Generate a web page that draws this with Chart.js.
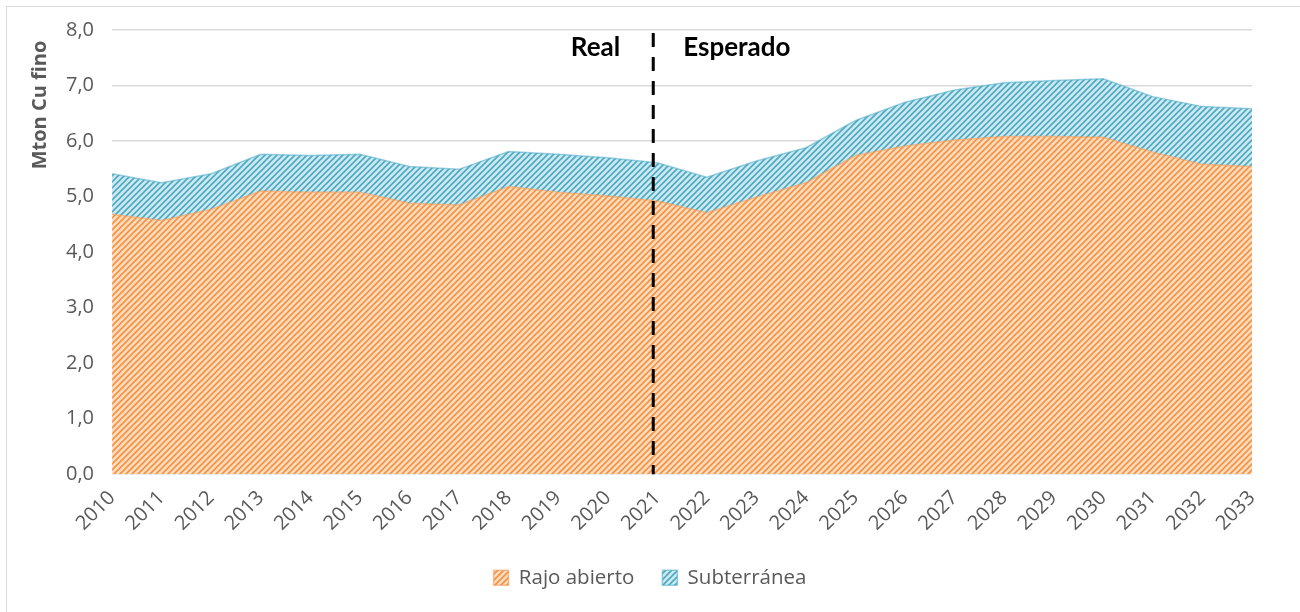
<!DOCTYPE html>
<html>
<head>
<meta charset="utf-8">
<script src="https://cdn.jsdelivr.net/npm/chart.js@4.4.1/dist/chart.umd.min.js"></script>
<style>
    html, body { margin: 0; padding: 0; background: #fff; overflow: hidden; }
    #frame {
        position: absolute; left: 6px; top: 6px; width: 1400px; height: 700px;
        border-left: 1px solid #d9d9d9; border-top: 1px solid #d9d9d9;
    }
    #wrap { position: absolute; left: 0; top: 0; width: 1300px; height: 612px; }
</style>
</head>
<body>
<div id="frame"></div>
<div id="wrap"><canvas id="chart"></canvas></div>
<script>
// Data (Mton Cu fino)
const years = ['2010', '2011', '2012', '2013', '2014', '2015', '2016', '2017', '2018', '2019', '2020', '2021',
               '2022', '2023', '2024', '2025', '2026', '2027', '2028', '2029', '2030', '2031', '2032', '2033'];
const rajoAbierto = [4.68, 4.57, 4.77, 5.10, 5.08, 5.08, 4.88, 4.85, 5.18, 5.08, 5.01, 4.92,
                     4.71, 4.99, 5.25, 5.74, 5.91, 6.02, 6.08, 6.08, 6.07, 5.80, 5.58, 5.54];
const subterranea = [0.73, 0.68, 0.64, 0.66, 0.66, 0.68, 0.66, 0.64, 0.63, 0.68, 0.69, 0.69,
                     0.64, 0.65, 0.63, 0.63, 0.79, 0.90, 0.97, 1.01, 1.05, 1.00, 1.04, 1.04];
const yTicks = [0, 1, 2, 3, 4, 5, 6, 7, 8];
const splitYear = '2021';

const textGray = '#595959';
const baseFont = '"Open Sans", sans-serif';

// Diagonal hatch pattern like Excel's "wide upward diagonal"
function hatch(base, stripe) {
    const size = 6;
    const c = document.createElement('canvas');
    c.width = size; c.height = size;
    const g = c.getContext('2d');
    g.fillStyle = base;
    g.fillRect(0, 0, size, size);
    g.strokeStyle = stripe;
    g.lineWidth = 1.6;
    g.beginPath();
    g.moveTo(0, size); g.lineTo(size, 0);
    g.moveTo(-1, 1); g.lineTo(1, -1);
    g.moveTo(size - 1, size + 1); g.lineTo(size + 1, size - 1);
    g.stroke();
    return g.createPattern(c, 'repeat');
}

const orangePattern = hatch('#fddcc0', '#f5913f');
const bluePattern = hatch('#cfe9f1', '#4aaac6');

// Dashed divider between real and expected data, its labels, and the y title
const dividerPlugin = {
    id: 'divider',
    afterDatasetsDraw(chart) {
        const { ctx, chartArea, scales } = chart;
        const x = scales.x.getPixelForValue(years.indexOf(splitYear)) - 4;
        ctx.save();
        ctx.strokeStyle = '#000';
        ctx.lineWidth = 3;
        ctx.setLineDash([14, 10]);
        ctx.beginPath();
        ctx.moveTo(x, chartArea.top + 3);
        ctx.lineTo(x, chartArea.bottom);
        ctx.stroke();
        ctx.setLineDash([]);
        ctx.fillStyle = '#000';
        ctx.font = 'bold 26px Lato, "Open Sans", sans-serif';
        ctx.textBaseline = 'middle';
        ctx.textAlign = 'right';
        ctx.fillText('Real', x - 33, chartArea.top + 18);
        ctx.textAlign = 'left';
        ctx.fillText('Esperado', x + 30, chartArea.top + 18);

        // axis title sits high on the left, as in the original
        ctx.translate(40, scales.y.getPixelForValue(6.65));
        ctx.rotate(-Math.PI / 2);
        ctx.textAlign = 'center';
        ctx.fillStyle = textGray;
        ctx.font = 'bold 20px ' + baseFont;
        ctx.fillText('Mton Cu fino', 0, 0);
        ctx.restore();
    }
};

new Chart(document.getElementById('chart'), {
    type: 'line',
    data: {
        labels: years,
        datasets: [{
            label: 'Rajo abierto',
            data: rajoAbierto,
            backgroundColor: orangePattern,
            borderColor: 'rgba(240, 150, 80, 0.55)',
            borderWidth: 1.5,
            pointRadius: 0,
            fill: 'origin',
            tension: 0
        }, {
            label: 'Subterránea',
            data: subterranea,
            backgroundColor: bluePattern,
            borderColor: 'rgba(75, 172, 198, 0.55)',
            borderWidth: 1.5,
            pointRadius: 0,
            fill: '-1',
            tension: 0
        }]
    },
    options: {
        responsive: true,
        maintainAspectRatio: false,
        animation: false,
        layout: { padding: { left: 48, right: 48, top: 24, bottom: 14 } },
        plugins: {
            tooltip: { enabled: false },
            legend: {
                position: 'bottom',
                labels: {
                    color: textGray,
                    font: { family: baseFont, size: 20.5 },
                    boxWidth: 15,
                    boxHeight: 15,
                    padding: 28
                }
            }
        },
        scales: {
            x: {
                offset: false,
                grid: { display: false },
                border: { display: false },
                ticks: {
                    color: textGray,
                    font: { family: baseFont, size: 20 },
                    maxRotation: 45,
                    minRotation: 45,
                    autoSkip: false,
                    padding: 4
                }
            },
            y: {
                stacked: true,
                min: yTicks[0],
                max: yTicks[yTicks.length - 1],
                afterBuildTicks: axis => { axis.ticks = yTicks.map(v => ({ value: v })); },
                grid: { color: '#d9d9d9', lineWidth: 1.5, drawTicks: false },
                border: { display: false },
                ticks: {
                    color: textGray,
                    font: { family: baseFont, size: 20 },
                    padding: 18,
                    callback: v => v.toFixed(1).replace('.', ',')
                }
            }
        }
    },
    plugins: [dividerPlugin]
});
</script>
</body>
</html>
